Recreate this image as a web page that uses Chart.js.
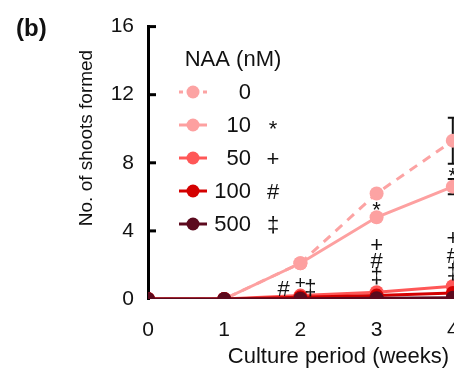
<!DOCTYPE html>
<html>
<head>
<meta charset="utf-8">
<script src="https://cdn.jsdelivr.net/npm/chart.js@4"></script>
<style>
  html, body { margin: 0; padding: 0; overflow: hidden; background: #fff; }
  #wrap { width: 560px; height: 370px; }
</style>
</head>
<body>
<div id="wrap"><canvas id="shoots"></canvas></div>
<script>
// weeks of culture
const weeks = [0, 1, 2, 3, 4];

// NAA concentrations (nM) and mean shoot counts
const naaLevels = ['0', '10', '50', '100', '500'];
const shoots0 = [0, 0, 2.1, 6.2, 9.3];
const shoots10 = [0, 0, 2.1, 4.8, 6.6];
const shoots50 = [0, 0, 0.2, 0.4, 0.75];
const shoots100 = [0, 0, 0.1, 0.2, 0.35];
const shoots500 = [0, 0, 0.02, 0.05, 0.08];

// error bars (± SE)
const err0 = [0, 0, 0.1, 0.15, 1.35];
const err10 = [0, 0, 0.1, 0.15, 0.45];

// legend significance symbols
const legendSigns = ['', '*', '+', '#', '\u2021'];

// significance marks on the plot
const markX = [1.78, 2.0, 2.13, 3, 3, 3, 3, 4, 4, 4, 4];
const markY = [0.53, 0.9, 0.57, 5.33, 3.1, 2.17, 1.27, 7.35, 3.5, 2.5, 1.52];
const markText = ['#', '+', '\u2021', '*', '+', '#', '\u2021', '*', '+', '#', '\u2021'];

const yTicks = [0, 4, 8, 12, 16];

const colors = ['#fca3a3', '#fda0a0', '#ff5757', '#d40000', '#5c0a1e'];
const FONT = "'Liberation Sans', Arial, sans-serif";

const series = [shoots0, shoots10, shoots50, shoots100, shoots500];

const extras = {
    id: 'extras',
    beforeDatasetsDraw(chart) {
        const ctx = chart.ctx;
        const x = chart.scales.x, y = chart.scales.y;
        ctx.save();
        // error bars, behind the markers
        [[shoots0, err0], [shoots10, err10]].forEach(([vals, errs]) => {
            ctx.strokeStyle = '#111';
            ctx.lineWidth = 2;
            vals.forEach((v, i) => {
                if (!errs[i]) return;
                const px = x.getPixelForValue(weeks[i]);
                const top = y.getPixelForValue(v + errs[i]);
                const bot = y.getPixelForValue(v - errs[i]);
                ctx.beginPath();
                ctx.moveTo(px, top); ctx.lineTo(px, bot);
                ctx.moveTo(px - 5, top); ctx.lineTo(px + 5, top);
                ctx.moveTo(px - 5, bot); ctx.lineTo(px + 5, bot);
                ctx.stroke();
            });
        });
        ctx.restore();
    },
    afterDatasetsDraw(chart) {
        const ctx = chart.ctx;
        const x = chart.scales.x, y = chart.scales.y;
        ctx.save();
        // significance marks
        ctx.fillStyle = '#111';
        ctx.textAlign = 'center';
        ctx.textBaseline = 'middle';
        markText.forEach((t, i) => {
            ctx.font = (t === '+' && i === 1 ? '19px ' : '22px ') + FONT;
            ctx.fillText(t, x.getPixelForValue(markX[i]), y.getPixelForValue(markY[i]) + (t === '*' ? 3 : 0));
        });
        ctx.restore();
    },
    afterDraw(chart) {
        const ctx = chart.ctx;
        const y = chart.scales.y;
        const ax = chart.chartArea.left;
        ctx.save();
        // inward ticks on y axis
        ctx.strokeStyle = '#000';
        ctx.lineWidth = 3;
        yTicks.forEach(v => {
            if (v === 0) return;
            const py = y.getPixelForValue(v);
            ctx.beginPath();
            ctx.moveTo(ax, py); ctx.lineTo(ax + 8, py);
            ctx.stroke();
        });
        // y title
        ctx.fillStyle = '#111';
        ctx.font = '19px ' + FONT;
        ctx.translate(87, 138);
        ctx.rotate(-Math.PI / 2);
        ctx.textAlign = 'center';
        ctx.textBaseline = 'middle';
        ctx.fillText('No. of shoots formed', 0, 0);
        ctx.restore();

        ctx.save();
        ctx.fillStyle = '#111';
        ctx.font = 'bold 24px ' + FONT;
        ctx.textBaseline = 'middle';
        ctx.fillText('(b)', 16, 29);

        // legend
        ctx.font = '22px ' + FONT;
        ctx.textAlign = 'center';
        ctx.fillText('NAA (nM)', 233, 60);
        naaLevels.forEach((lab, i) => {
            const ly = 92 + i * 33;
            ctx.strokeStyle = colors[i];
            ctx.lineWidth = 3;
            ctx.setLineDash(i === 0 ? [4, 4] : []);
            ctx.beginPath();
            ctx.moveTo(179, ly); ctx.lineTo(207, ly);
            ctx.stroke();
            ctx.setLineDash([]);
            ctx.fillStyle = colors[i];
            ctx.beginPath();
            ctx.arc(193, ly, 6.5, 0, Math.PI * 2);
            ctx.fill();
            ctx.fillStyle = '#111';
            ctx.textAlign = 'right';
            ctx.font = '22px ' + FONT;
            ctx.fillText(lab, 251, ly + 1);
            ctx.textAlign = 'center';
            ctx.fillText(legendSigns[i], 273, ly + (i === 1 ? 5 : 2));
        });
        ctx.restore();
    }
};

new Chart(document.getElementById('shoots'), {
    type: 'line',
    data: {
        labels: weeks,
        datasets: series.map((vals, i) => ({
            label: naaLevels[i],
            data: vals.map((v, j) => ({ x: weeks[j], y: v })),
            borderColor: colors[i],
            backgroundColor: colors[i],
            borderWidth: 3,
            borderDash: i === 0 ? [9, 7] : [],
            pointRadius: 7,
            pointHoverRadius: 7,
            pointBorderWidth: 0,
            order: 5 - i,
            tension: 0
        }))
    },
    options: {
        responsive: true,
        maintainAspectRatio: false,
        animation: false,
        events: [],
        layout: { padding: { top: 26, right: 31, left: 0, bottom: 0 } },
        scales: {
            x: {
                type: 'linear',
                min: 0,
                max: 5,
                afterFit: s => { s.height = 71; },
                border: { display: false },
                grid: { display: false },
                ticks: {
                    stepSize: 1,
                    padding: 11,
                    color: '#111',
                    font: { family: FONT, size: 21 }
                },
                title: {
                    display: true,
                    text: 'Culture period (weeks)',
                    color: '#111',
                    padding: { top: 0, bottom: 0 },
                    font: { family: FONT, size: 22 }
                }
            },
            y: {
                min: 0,
                max: 16,
                afterFit: s => { s.width = 148; },
                border: { display: true, color: '#000', width: 3 },
                grid: { display: false, drawTicks: false },
                ticks: {
                    stepSize: 4,
                    padding: 14,
                    color: '#111',
                    font: { family: FONT, size: 21 }
                }
            }
        },
        plugins: {
            legend: { display: false },
            tooltip: { enabled: false }
        }
    },
    plugins: [extras]
});
</script>
</body>
</html>
